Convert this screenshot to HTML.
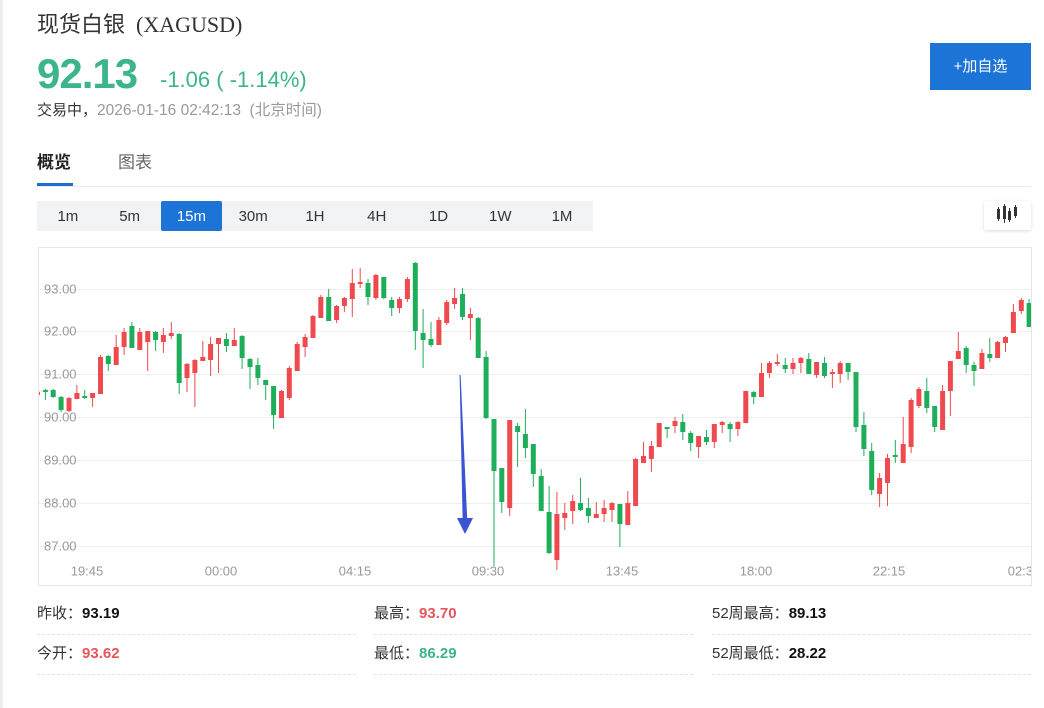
<!DOCTYPE html>
<html><head><meta charset="utf-8">
<style>
*{margin:0;padding:0;box-sizing:border-box}
html,body{width:1044px;height:708px;overflow:hidden;background:#fff}
body{position:relative;font-family:"Liberation Sans","Noto Sans CJK SC",sans-serif;color:#333}
.a{position:absolute;white-space:nowrap}
.strip{left:0;top:0;width:3px;height:708px;background:#eeeeee}
.title{left:37px;top:14px;font-size:22px;line-height:22px;color:#333}
.title .en{font-family:"Liberation Serif","Noto Serif CJK SC",serif;margin-left:11px}
.price{left:37px;top:53px;font-size:42px;line-height:42px;font-weight:bold;color:#3cb48c;letter-spacing:-1px}
.chg{left:160px;top:69px;font-size:22px;line-height:22px;color:#3cb48c}
.time{left:37px;top:103px;font-size:15.5px;line-height:15px;color:#999}
.time b{font-weight:normal;color:#333;font-size:15px}
.btn{left:930px;top:43px;width:101px;height:47px;background:#1c75d6;color:#fff;font-size:15px;line-height:47px;text-align:center}
.tab1{left:37px;top:154px;font-size:17px;line-height:17px;font-weight:bold;color:#222}
.tab2{left:118px;top:154px;font-size:17px;line-height:17px;color:#666}
.uline{left:37px;top:183px;width:36px;height:3px;background:#1c6fcf}
.gline{left:37px;top:186px;width:994px;height:1px;background:#ececec}
.bar{left:37px;top:201px;width:556px;height:30px;background:#f2f3f5;display:flex}
.bar div{width:61.78px;height:30px;line-height:30px;padding-top:1px;text-align:center;font-size:15px;color:#333}
.bar div.on{background:#1c74d6;color:#fff;border-radius:2px}
.ico{left:984px;top:201px;width:47px;height:29px;background:#fff;box-shadow:0 1px 3px rgba(0,0,0,.15);border-radius:2px}
.chart{left:38px;top:247px;width:994px;height:339px;border:1px solid #e6e6e6}
.st{font-size:15px;line-height:15px;color:#333}
.st b{font-weight:bold;color:#111}
.st b.r{color:#e9555a}
.st b.g{color:#3cb48c}
.dl{height:0;border-top:1px dashed #e2e2e2}
</style></head><body>
<div class="a strip"></div>
<div class="a title">现货白银<span class="en">(XAGUSD)</span></div>
<div class="a price">92.13</div>
<div class="a chg">-1.06 ( -1.14%)</div>
<div class="a time"><b>交易中，</b>2026-01-16 02:42:13&nbsp; (北京时间)</div>
<div class="a btn">+加自选</div>
<div class="a tab1">概览</div>
<div class="a tab2">图表</div>
<div class="a gline"></div>
<div class="a uline"></div>
<div class="a bar"><div>1m</div><div>5m</div><div class="on">15m</div><div>30m</div><div>1H</div><div>4H</div><div>1D</div><div>1W</div><div>1M</div></div>
<div class="a ico"><svg width="47" height="29" viewBox="0 0 47 29">
<g stroke="#333" stroke-width="1"><path d="M14.5 6V20M20.5 3V22M25.5 7V21M31.5 4V17"/></g>
<g fill="#333"><rect x="13" y="8" width="3" height="10"/><rect x="19" y="5" width="3" height="13"/><rect x="24" y="10" width="3" height="9"/><rect x="30" y="6" width="3" height="9"/></g>
</svg></div>
<div class="a chart"></div>
<svg class="a" style="left:0;top:0" width="1044" height="708" viewBox="0 0 1044 708">
<defs><clipPath id="c"><rect x="39" y="248" width="992" height="337"/></clipPath></defs>
<g stroke="#eeeeee" stroke-width="1">
<path d="M39 289.5H1031M39 331.5H1031M39 374.5H1031M39 417.5H1031M39 460.5H1031M39 503.5H1031M39 546.5H1031"/>
</g>
<g font-family="Liberation Sans, sans-serif" font-size="13" fill="#999">
<text x="44" y="293.5">93.00</text>
<text x="44" y="335.5">92.00</text>
<text x="44" y="378.5">91.00</text>
<text x="44" y="421.5">90.00</text>
<text x="44" y="464.5">89.00</text>
<text x="44" y="507.5">88.00</text>
<text x="44" y="550.5">87.00</text>
</g>
<g clip-path="url(#c)">
<path fill="#ee4a4f" stroke="#ee4a4f" stroke-width="1" d="M37.5 391V396M35.5 392.2h4V394.5h-4zM69 397V412M67 398.5h4V410.5h-4zM76.9 385V399M74.9 393.5h4V398.5h-4zM92.6 393V407M90.6 393.5h4V397.5h-4zM100.5 355V394M98.5 357.5h4V393.5h-4zM116.2 335V365M114.2 347.5h4V364.5h-4zM124.1 328V355M122.1 332.5h4V346.5h-4zM139.8 328V350M137.8 332.5h4V349.5h-4zM147.7 331V371M145.7 331.5h4V341.5h-4zM163.4 328V353M161.4 335.5h4V341.5h-4zM171.3 322V339M169.3 333.5h4V335.5h-4zM187 363V392M185 364.5h4V377.5h-4zM194.9 359V407M192.9 360.5h4V372.5h-4zM202.8 341V361M200.8 357.5h4V360.5h-4zM210.6 337V376M208.6 344.5h4V359.5h-4zM218.5 338V373M216.5 338.5h4V343.5h-4zM234.3 328V346M232.3 340.5h4V345.5h-4zM281.5 390V418M279.5 391.5h4V417.5h-4zM289.3 366V400M287.3 368.5h4V397.5h-4zM297.2 342V371M295.2 344.5h4V370.5h-4zM305.1 334V357M303.1 337.5h4V346.5h-4zM313 315V338M311 316.5h4V337.5h-4zM320.8 295V318M318.8 297.5h4V317.5h-4zM336.6 305V323M334.6 306.5h4V319.5h-4zM344.4 297V312M342.4 298.5h4V305.5h-4zM352.3 269V317M350.3 283.5h4V298.5h-4zM360.2 268V288M358.2 282.5h4V283.5h-4zM375.9 274V300M373.9 275.5h4V297.5h-4zM399.5 297V313M397.5 299.5h4V307.5h-4zM407.4 277V302M405.4 279.5h4V298.5h-4zM438.9 317V345M436.9 320.5h4V344.5h-4zM446.7 300V325M444.7 302.5h4V322.5h-4zM454.6 288V309M452.6 298.5h4V303.5h-4zM470.4 308V340M468.4 314.5h4V317.5h-4zM509.7 420V516M507.7 420.5h4V507.5h-4zM556.9 492V570M554.9 514.5h4V559.5h-4zM564.8 503V530M562.8 513.5h4V517.5h-4zM572.7 495V524M570.7 501.5h4V510.5h-4zM596.3 502V518M594.3 514.5h4V517.5h-4zM604.1 500V522M602.1 508.5h4V513.5h-4zM612 502V522M610 503.5h4V509.5h-4zM627.8 491V525M625.8 503.5h4V524.5h-4zM635.6 458V506M633.6 459.5h4V505.5h-4zM643.5 442V463M641.5 456.5h4V462.5h-4zM651.4 441V472M649.4 446.5h4V458.5h-4zM659.2 423V447M657.2 423.5h4V446.5h-4zM675 417V433M673 421.5h4V425.5h-4zM698.6 436V458M696.6 436.5h4V446.5h-4zM714.3 424V448M712.3 424.5h4V441.5h-4zM722.2 421V433M720.2 422.5h4V424.5h-4zM737.9 421V436M735.9 422.5h4V428.5h-4zM745.8 391V423M743.8 391.5h4V422.5h-4zM761.5 363V397M759.5 373.5h4V396.5h-4zM769.4 361V378M767.4 363.5h4V372.5h-4zM777.3 354V366M775.3 362.5h4V363.5h-4zM793 358V374M791 363.5h4V368.5h-4zM800.9 357V373M798.9 358.5h4V362.5h-4zM816.6 362V378M814.6 362.5h4V374.5h-4zM832.4 369V388M830.4 372.5h4V373.5h-4zM840.2 361V383M838.2 363.5h4V373.5h-4zM879.6 473V507M877.6 478.5h4V493.5h-4zM887.5 454V506M885.5 458.5h4V482.5h-4zM903.2 417V463M901.2 444.5h4V462.5h-4zM911.1 398V453M909.1 400.5h4V446.5h-4zM918.9 387V408M916.9 389.5h4V405.5h-4zM942.6 385V430M940.6 391.5h4V429.5h-4zM950.4 361V416M948.4 361.5h4V390.5h-4zM958.3 332V359M956.3 351.5h4V358.5h-4zM981.9 349V369M979.9 353.5h4V368.5h-4zM997.6 341V358M995.6 342.5h4V357.5h-4zM1005.5 336V352M1003.5 337.5h4V342.5h-4zM1013.4 304V333M1011.4 312.5h4V332.5h-4zM1021.3 298V314M1019.3 300.5h4V310.5h-4z"/>
<path fill="#1fae5b" stroke="#1fae5b" stroke-width="1" d="M45.4 389V400M43.4 390.5h4V391.5h-4zM53.2 389V398M51.2 390.5h4V396.5h-4zM61.1 396V412M59.1 397.5h4V409.5h-4zM84.7 390V399M82.7 396.5h4V397.5h-4zM108.3 355V371M106.3 356.5h4V363.5h-4zM131.9 322V348M129.9 326.5h4V347.5h-4zM155.6 331V351M153.6 332.5h4V339.5h-4zM179.2 333V394M177.2 334.5h4V382.5h-4zM226.4 333V352M224.4 339.5h4V345.5h-4zM242.1 335V369M240.1 336.5h4V357.5h-4zM250 358V389M248 359.5h4V366.5h-4zM257.9 358V385M255.9 365.5h4V377.5h-4zM265.7 380V400M263.7 380.5h4V384.5h-4zM273.6 386V429M271.6 386.5h4V414.5h-4zM328.7 289V321M326.7 297.5h4V320.5h-4zM368 279V305M366 283.5h4V296.5h-4zM383.8 277V299M381.8 277.5h4V297.5h-4zM391.7 297V316M389.7 300.5h4V307.5h-4zM415.3 262V350M413.3 263.5h4V330.5h-4zM423.1 309V368M421.1 333.5h4V339.5h-4zM431 322V347M429 339.5h4V344.5h-4zM462.5 288V320M460.5 294.5h4V316.5h-4zM478.2 317V358M476.2 318.5h4V357.5h-4zM486.1 351V419M484.1 357.5h4V417.5h-4zM494 419V566M492 419.5h4V470.5h-4zM501.8 468V513M499.8 468.5h4V501.5h-4zM517.6 423V467M515.6 426.5h4V431.5h-4zM525.4 409V458M523.4 434.5h4V447.5h-4zM533.3 444V487M531.3 444.5h4V473.5h-4zM541.2 469V511M539.2 476.5h4V510.5h-4zM549.1 486V554M547.1 512.5h4V552.5h-4zM580.5 478V511M578.5 503.5h4V509.5h-4zM588.4 498V523M586.4 508.5h4V515.5h-4zM619.9 504V547M617.9 504.5h4V523.5h-4zM667.1 427V438M665.1 427.5h4V428.5h-4zM682.8 414V440M680.8 422.5h4V431.5h-4zM690.7 431V451M688.7 433.5h4V442.5h-4zM706.5 430V445M704.5 437.5h4V441.5h-4zM730.1 422V442M728.1 424.5h4V428.5h-4zM753.7 391V404M751.7 392.5h4V396.5h-4zM785.2 358V373M783.2 365.5h4V368.5h-4zM808.8 353V374M806.8 359.5h4V373.5h-4zM824.5 357V378M822.5 363.5h4V375.5h-4zM848.1 363V380M846.1 363.5h4V371.5h-4zM856 372V432M854 372.5h4V426.5h-4zM863.9 412V456M861.9 425.5h4V448.5h-4zM871.7 443V495M869.7 451.5h4V489.5h-4zM895.3 440V463M893.3 455.5h4V456.5h-4zM926.8 378V413M924.8 391.5h4V407.5h-4zM934.7 406V432M932.7 406.5h4V426.5h-4zM966.2 346V373M964.2 348.5h4V364.5h-4zM974 362V386M972 365.5h4V370.5h-4zM989.8 338V362M987.8 354.5h4V357.5h-4zM1029.1 299V327M1027.1 303.5h4V326.5h-4z"/>
<g font-family="Liberation Sans, sans-serif" font-size="13" fill="#999" text-anchor="middle">
<text x="87" y="575.5">19:45</text>
<text x="221" y="575.5">00:00</text>
<text x="355" y="575.5">04:15</text>
<text x="488" y="575.5">09:30</text>
<text x="622" y="575.5">13:45</text>
<text x="756" y="575.5">18:00</text>
<text x="889" y="575.5">22:15</text>
<text x="1024" y="575.5">02:30</text>
</g>
</g>
<polygon fill="#3a54d4" points="459.6,375 460.6,375 467.2,519 462.6,519"/>
<polygon fill="#3a54d4" points="457,518 473,518 465,534"/>
</svg>
<div class="a st" style="left:37px;top:606px">昨收：<b>93.19</b></div>
<div class="a st" style="left:374px;top:606px">最高：<b class="r">93.70</b></div>
<div class="a st" style="left:712px;top:606px">52周最高：<b>89.13</b></div>
<div class="a st" style="left:37px;top:646px">今开：<b class="r">93.62</b></div>
<div class="a st" style="left:374px;top:646px">最低：<b class="g">86.29</b></div>
<div class="a st" style="left:712px;top:646px">52周最低：<b>28.22</b></div>
<div class="a dl" style="left:37px;top:634px;width:319px"></div>
<div class="a dl" style="left:374px;top:634px;width:319px"></div>
<div class="a dl" style="left:712px;top:634px;width:319px"></div>
<div class="a dl" style="left:37px;top:674px;width:319px"></div>
<div class="a dl" style="left:374px;top:674px;width:319px"></div>
<div class="a dl" style="left:712px;top:674px;width:319px"></div>
</body></html>
